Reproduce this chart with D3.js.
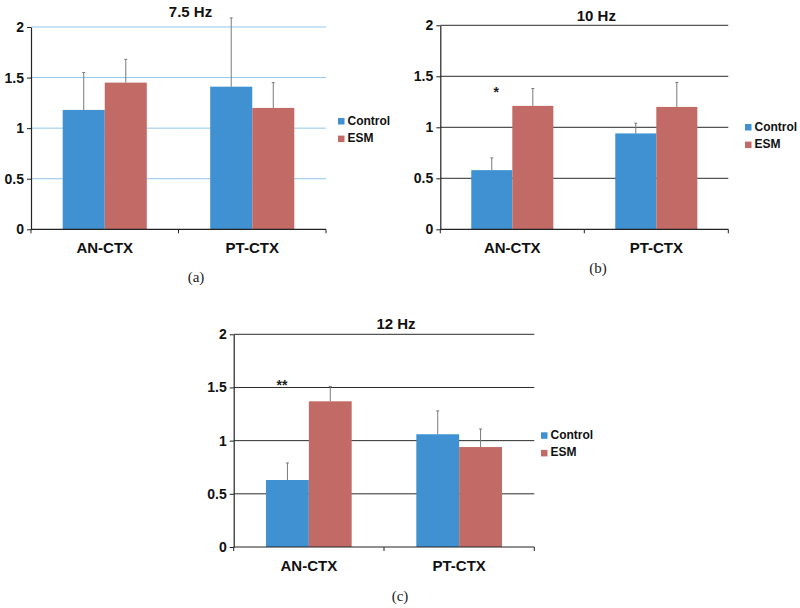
<!DOCTYPE html>
<html>
<head>
<meta charset="utf-8">
<script src="https://cdn.jsdelivr.net/npm/d3@7"></script>
<style>
  html, body { margin: 0; padding: 0; background: #fff; }
  svg { display: block; }
</style>
</head>
<body>
<svg id="chart" width="800" height="608"></svg>
<script>
// ---------- data ----------
const categories = ["AN-CTX", "PT-CTX"];
const seriesNames = ["Control", "ESM"];
const yTicks = [0, 0.5, 1, 1.5, 2];
const panelTitles = ["7.5 Hz", "10 Hz", "12 Hz"];
const panelCaptions = ["(a)", "(b)", "(c)"];

const control75 = [1.18, 1.41];
const esm75 = [1.45, 1.20];
const controlErr75 = [0.37, 0.68];
const esmErr75 = [0.23, 0.25];

const control10 = [0.58, 0.94];
const esm10 = [1.21, 1.20];
const controlErr10 = [0.12, 0.10];
const esmErr10 = [0.17, 0.24];

const control12 = [0.63, 1.06];
const esm12 = [1.37, 0.94];
const controlErr12 = [0.16, 0.22];
const esmErr12 = [0.14, 0.17];

const sig75 = ["", ""];
const sig10 = ["*", ""];
const sig12 = ["**", ""];

// ---------- styles ----------
const colors = { Control: "#3f91d1", ESM: "#c26b66" };
const sansFont = "'Liberation Sans', Arial, sans-serif";
const serifFont = "'Liberation Serif', 'Times New Roman', serif";

const panels = [
  { title: panelTitles[0], caption: panelCaptions[0], control: control75, esm: esm75, cErr: controlErr75, eErr: esmErr75, sig: sig75,
    left: 31, right: 326, top: 27, bottom: 229.3, grid: "#93c6ea",
    titleY: 17, capX: 196, capY: 282, legX: 338, legY: 118, sigDx: 0 },
  { title: panelTitles[1], caption: panelCaptions[1], control: control10, esm: esm10, cErr: controlErr10, eErr: esmErr10, sig: sig10,
    left: 440.3, right: 728.3, top: 25.3, bottom: 229.3, grid: "#2b2b2b",
    titleY: 21, capX: 598, capY: 273, legX: 745, legY: 124, sigDx: 25 },
  { title: panelTitles[2], caption: panelCaptions[2], control: control12, esm: esm12, cErr: controlErr12, eErr: esmErr12, sig: sig12,
    left: 233.7, right: 534.3, top: 334.3, bottom: 547, grid: "#2b2b2b",
    titleY: 329, capX: 400, capY: 601, legX: 541, legY: 432.3, sigDx: 16 }
];
const sigY = [null, 89, 381.7];

const svg = d3.select("#chart");

panels.forEach((p, pi) => {
  const g = svg.append("g");
  const x = d3.scaleBand().domain(categories).range([p.left, p.right])
    .paddingInner(0.43).paddingOuter(0.215);
  const xs = d3.scaleBand().domain(seriesNames).range([0, x.bandwidth()]).padding(0);
  const y = d3.scaleLinear().domain([0, 2]).range([p.bottom, p.top]);

  // gridlines
  g.append("g").selectAll("line").data(yTicks.filter(t => t > 0)).join("line")
    .attr("x1", p.left).attr("x2", p.right)
    .attr("y1", d => y(d)).attr("y2", d => y(d))
    .attr("stroke", p.grid).attr("stroke-width", 1);

  // bars
  const rows = categories.map((c, i) => [
    { cat: c, s: "Control", v: p.control[i], e: p.cErr[i] },
    { cat: c, s: "ESM", v: p.esm[i], e: p.eErr[i] }
  ]).flat();

  g.append("g").selectAll("rect").data(rows).join("rect")
    .attr("x", d => x(d.cat) + xs(d.s))
    .attr("width", xs.bandwidth())
    .attr("y", d => y(d.v))
    .attr("height", d => y(0) - y(d.v))
    .attr("fill", d => colors[d.s]);

  // error bars (upper only)
  const eb = g.append("g").attr("stroke", "#7a7a7a").attr("stroke-width", 1);
  eb.selectAll("line.v").data(rows).join("line").attr("class", "v")
    .attr("x1", d => x(d.cat) + xs(d.s) + xs.bandwidth() / 2)
    .attr("x2", d => x(d.cat) + xs(d.s) + xs.bandwidth() / 2)
    .attr("y1", d => y(d.v)).attr("y2", d => y(d.v + d.e));
  eb.selectAll("line.c").data(rows).join("line").attr("class", "c")
    .attr("x1", d => x(d.cat) + xs(d.s) + xs.bandwidth() / 2 - 1.5)
    .attr("x2", d => x(d.cat) + xs(d.s) + xs.bandwidth() / 2 + 1.5)
    .attr("y1", d => y(d.v + d.e)).attr("y2", d => y(d.v + d.e));

  // y axis
  const yAxis = g.append("g").attr("transform", `translate(${p.left},0)`)
    .call(d3.axisLeft(y).tickValues(yTicks).tickFormat(d3.format("")).tickSize(4).tickSizeOuter(0).tickPadding(3));
  yAxis.select(".domain").attr("stroke", "#222").attr("stroke-width", 1.2);
  yAxis.selectAll(".tick line").attr("stroke", "#222");
  yAxis.selectAll("text").attr("font-family", sansFont).attr("font-size", 14)
    .attr("font-weight", "bold").attr("fill", "#111");

  // x axis
  const xAxisG = g.append("g").attr("transform", `translate(0,${p.bottom})`);
  xAxisG.append("line").attr("x1", p.left).attr("x2", p.right).attr("y1", 0).attr("y2", 0)
    .attr("stroke", "#222").attr("stroke-width", 1.2);
  const boundaries = [p.left, (x(categories[0]) + x.bandwidth() + x(categories[1])) / 2, p.right];
  xAxisG.selectAll("line.t").data(boundaries).join("line").attr("class", "t")
    .attr("x1", d => d).attr("x2", d => d).attr("y1", 0).attr("y2", 4)
    .attr("stroke", "#222");
  xAxisG.selectAll("text").data(categories).join("text")
    .attr("x", d => x(d) + x.bandwidth() / 2).attr("y", 23.5)
    .attr("text-anchor", "middle").attr("font-family", sansFont)
    .attr("font-size", 15).attr("font-weight", "bold").attr("fill", "#111")
    .text(d => d);

  // title
  g.append("text").attr("x", (p.left + p.right) / 2 + 12).attr("y", p.titleY)
    .attr("text-anchor", "middle").attr("font-family", sansFont)
    .attr("font-size", 15).attr("font-weight", "bold").attr("fill", "#111")
    .text(p.title);

  // significance marks
  categories.forEach((c, i) => {
    if (p.sig[i]) {
      g.append("text").attr("x", x(c) + p.sigDx).attr("y", sigY[pi] + 8)
        .attr("text-anchor", "middle").attr("font-family", sansFont)
        .attr("font-size", 14).attr("font-weight", "bold").attr("fill", "#222")
        .text(p.sig[i]);
    }
  });

  // legend
  const leg = g.append("g").attr("transform", `translate(${p.legX},${p.legY})`);
  seriesNames.forEach((s, i) => {
    leg.append("rect").attr("x", 0).attr("y", i * 17.6).attr("width", 6.5).attr("height", 6.5)
      .attr("fill", colors[s]);
    leg.append("text").attr("x", 9.5).attr("y", i * 17.6 + 6.5)
      .attr("font-family", sansFont).attr("font-size", 12).attr("font-weight", "bold")
      .attr("fill", "#111").text(s);
  });

  // caption
  g.append("text").attr("x", p.capX).attr("y", p.capY).attr("text-anchor", "middle")
    .attr("font-family", serifFont).attr("font-size", 15).attr("fill", "#222")
    .text(p.caption);
});
</script>
</body>
</html>
